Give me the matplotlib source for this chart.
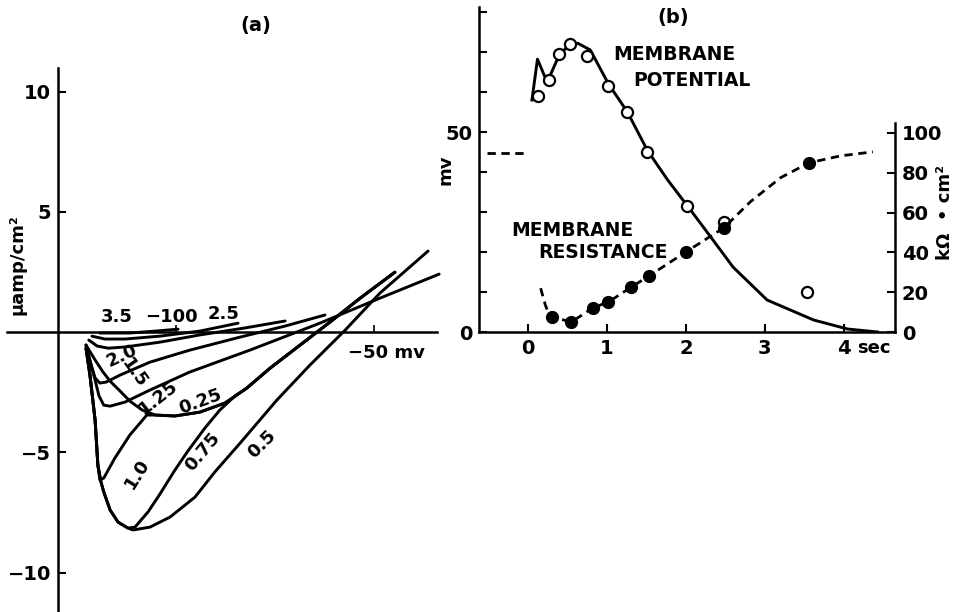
import matplotlib
matplotlib.use("Agg")
import matplotlib.pyplot as plt
import numpy as np

plt.rcParams['font.family'] = ['DejaVu Sans']
plt.rcParams['font.weight'] = 'bold'

W, H = 957, 612

# ---- panel (a): current (uA/cm2) vs membrane potential (mV), one curve per time (sec)
start_v = [-139.6, -134.6, -130.0, -128.0, -125.7, -123.7]
start_i = [-0.04, -0.04, 0.0, 0.08, 0.08, 0.0]
tail_v = [-82.2, -76.3, -68.7, -61.1, -53.5, -44.7]
tail_i = [-2.33, -1.5, -0.54, 0.42, 1.41, 2.49]
drop_v = [-122.9, -121.9, -120.6, -119.9]
drop_i = [-0.67, -1.79, -3.66, -5.53]

iv_curves = {
    "3.5": ([-119.4, -111.8, -105.4, -99.6],
            [-0.04, -0.04, 0.04, 0.12]),
    "2.5": ([-121.4, -118.1, -113.0, -104.2, -94.1, -84.4],
            [-0.17, -0.29, -0.29, -0.17, 0.04, 0.37]),
    "2.0": ([-122.2, -120.1, -117.3, -113.0, -104.2, -94.1, -82.7, -72.5],
            [-0.33, -0.58, -0.67, -0.62, -0.42, -0.12, 0.17, 0.46]),
    "1.5": ([-122.9, -121.6, -120.6, -119.4, -117.8, -114.3, -106.7, -96.6, -83.9, -72.5, -62.4],
            [-0.54, -1.37, -1.91, -2.12, -2.08, -1.79, -1.25, -0.75, -0.21, 0.25, 0.71]),
    "1.25": ([-122.9, -121.6, -120.6, -119.6, -118.4, -116.8, -113.0, -106.7, -96.6, -81.4, -63.7, -48.5, -33.5],
             [-0.54, -1.37, -2.0, -2.66, -3.04, -3.08, -2.91, -2.41, -1.66, -0.75, 0.37, 1.41, 2.41]),
    "0.25": ([-122.9, -120.6, -118.6, -116.8, -114.3, -111.8, -108.7, -105.4, -100.4, -94.1, -87.7] + tail_v,
             [-0.54, -1.16, -1.66, -2.04, -2.45, -2.87, -3.24, -3.45, -3.49, -3.33, -2.95] + tail_i),
    "1.0": (drop_v + [-119.4, -118.4, -115.6, -111.8, -107.5, -105.4, -100.4, -94.1, -87.7] + tail_v,
            drop_i + [-6.15, -6.07, -5.24, -4.28, -3.45, -3.45, -3.49, -3.33, -2.95] + tail_i),
    "0.75": (drop_v + [-119.1, -118.4, -116.8, -114.8, -112.3, -110.5, -107.2, -104.2, -100.4, -97.3, -92.8, -89.0, -85.2] + tail_v,
             drop_i + [-6.24, -6.65, -7.40, -7.90, -8.15, -8.11, -7.48, -6.74, -5.74, -4.99, -3.99, -3.24, -2.66] + tail_i),
    "0.5": (drop_v + [-119.1, -118.4, -116.8, -114.8, -112.3, -111.0, -106.7, -101.6, -95.3, -90.3, -83.9, -74.6, -66.2, -57.3, -48.5, -36.3],
            drop_i + [-6.24, -6.65, -7.40, -7.90, -8.15, -8.23, -8.11, -7.69, -6.86, -5.82, -4.62, -2.83, -1.37, 0.08, 1.62, 3.37]),
}

# label positions (mV, uA/cm2, rotation)
iv_labels = {
    "3.5": (-115.1, 0.62, 0), "2.5": (-88.0, 0.75, 0), "2.0": (-113.8, -1.0, 25),
    "1.5": (-110.6, -1.72, -55), "1.25": (-104.7, -2.7, 38), "0.25": (-94.1, -2.9, 20),
    "1.0": (-110.0, -5.9, 58), "0.75": (-93.5, -4.99, 50), "0.5": (-78.4, -4.66, 45),
}

# ---- panel (b): time course
pot_t = [0.05, 0.12, 0.22, 0.26, 0.39, 0.53, 0.63, 0.79, 1.02, 1.26, 1.51, 1.77, 2.06, 2.28, 2.60, 3.03, 3.62, 4.05, 4.43]
pot_mv = [58, 68.2, 63.5, 63.2, 69, 72, 72.2, 70.5, 62, 55, 45.5, 38, 30.5, 24.7, 16.2, 8, 3, 0.75, 0]
pot_pts_t = [0.13, 0.26, 0.39, 0.53, 0.75, 1.02, 1.26, 1.51, 2.02, 2.49, 3.53]
pot_pts_mv = [59, 63, 69.5, 72, 69, 61.5, 55, 45, 31.5, 27.5, 10]

res_t = [0.16, 0.22, 0.26, 0.31, 0.55, 0.82, 1.02, 1.31, 1.53, 2.0, 2.48, 2.82, 3.2, 3.56, 3.96, 4.37]
res_k = [22, 13.5, 9.5, 7.5, 5.0, 12.1, 15.1, 22.6, 28.1, 40.2, 52.3, 65.5, 77.5, 85, 88.5, 90.5]
res_pts_t = [0.31, 0.55, 0.82, 1.02, 1.31, 1.53, 2.0, 2.48, 3.56]
res_pts_k = [7.5, 5.0, 12.1, 15.1, 22.6, 28.1, 40.2, 52.3, 85]
rest_t = [-0.52, -0.04]
rest_k = [90, 90]


def box(x0, y0, x1, y1):
    return [x0 / W, 1 - y1 / H, (x1 - x0) / W, (y1 - y0) / H]


def ftext(x, y, s, **kw):
    fig.text(x / W, 1 - y / H, s, **kw)


fig = plt.figure(figsize=(W / 100, H / 100), dpi=100)

# ---------------- (a)
axA = fig.add_axes(box(7, 68, 437, 612))
axA.set_xlim(-142.9, -34.05)
axA.set_ylim(-11.64, 10.98)
for k, (v, i) in iv_curves.items():
    axA.plot(v, i, color='black', lw=2.1, solid_joinstyle='round', solid_capstyle='round', clip_on=False)
for k, (x, y, r) in iv_labels.items():
    axA.text(x, y, k, rotation=r, ha='center', va='center', fontsize=13)
axA.text(-101.4, 0.62, "\u2212100", ha='center', va='center', fontsize=13)
axA.text(-56.6, -0.85, "\u221250 mv", ha='left', va='center', fontsize=13)

axA.spines['top'].set_visible(False)
axA.spines['right'].set_visible(False)
axA.spines['left'].set_position(('data', -130))
axA.spines['bottom'].set_position(('data', 0))
for s in ('left', 'bottom'):
    axA.spines[s].set_linewidth(1.8)
axA.set_yticks([-10, -5, 5, 10])
axA.set_yticklabels(["\u221210", "\u22125", "5", "10"])
axA.set_xticks([-100, -50])
axA.set_xticklabels([])
axA.tick_params(axis='y', direction='in', length=6, width=1.5, labelsize=14, pad=5)
axA.tick_params(axis='x', direction='in', length=5, width=1.2)
axA.patch.set_visible(False)

ftext(18, 265, "\u00b5amp/cm\u00b2", rotation=90, ha='center', va='center', fontsize=13)
ftext(256, 25, "(a)", ha='center', va='center', fontsize=14)

# ---------------- (b)
axB = fig.add_axes(box(479, 7, 895, 332))
axB.set_xlim(-0.621, 4.651)
axB.set_ylim(0, 81.25)
axB.plot(pot_t, pot_mv, color='black', lw=2.1, solid_joinstyle='round')
axB.plot(pot_pts_t, pot_pts_mv, 'o', ms=8, mfc='white', mec='black', mew=1.6, zorder=4)

axR = axB.twinx()
axR.set_ylim(0, 163.3)
axR.plot(res_t, res_k, color='black', lw=2.0, dashes=(3, 2))
axR.plot(rest_t, rest_k, color='black', lw=2.0, dashes=(3, 2))
axR.plot(res_pts_t, res_pts_k, 'o', ms=8.5, mfc='black', mec='black', zorder=5)

axB.spines['top'].set_visible(False)
axB.spines['right'].set_visible(False)
axR.spines['top'].set_visible(False)
axR.spines['left'].set_visible(False)
axR.spines['bottom'].set_visible(False)
axR.spines['right'].set_bounds(0, 105)
for s in ('left', 'bottom'):
    axB.spines[s].set_linewidth(1.8)
axR.spines['right'].set_linewidth(1.8)

axB.set_yticks(range(0, 81, 10))
axB.set_yticklabels(["0", "", "", "", "", "50", "", "", ""])
axB.set_xticks([0, 1, 2, 3, 4])
axB.set_xticklabels(["0", "1", "2", "3", "4"])
axB.tick_params(axis='y', direction='in', length=6, width=1.5, labelsize=14, pad=5)
axB.tick_params(axis='x', direction='in', length=6, width=1.5, labelsize=14, pad=5)
axR.set_yticks(range(0, 101, 20))
axR.tick_params(axis='y', direction='in', length=6, width=1.5, labelsize=14, pad=5)

ftext(857, 348, "sec", ha='left', va='center', fontsize=13)
ftext(445, 170, "mv", rotation=90, ha='center', va='center', fontsize=13)
ftext(945, 212, "k\u03a9  \u2022 cm\u00b2", rotation=90, ha='center', va='center', fontsize=13)
ftext(673, 18, "(b)", ha='center', va='center', fontsize=14)
ftext(613, 55, "MEMBRANE", ha='left', va='center', fontsize=13.5)
ftext(633, 80, "POTENTIAL", ha='left', va='center', fontsize=13.5)
ftext(511, 230, "MEMBRANE", ha='left', va='center', fontsize=13.5)
ftext(538, 252, "RESISTANCE", ha='left', va='center', fontsize=13.5)

fig.savefig("out.png", dpi=100)
